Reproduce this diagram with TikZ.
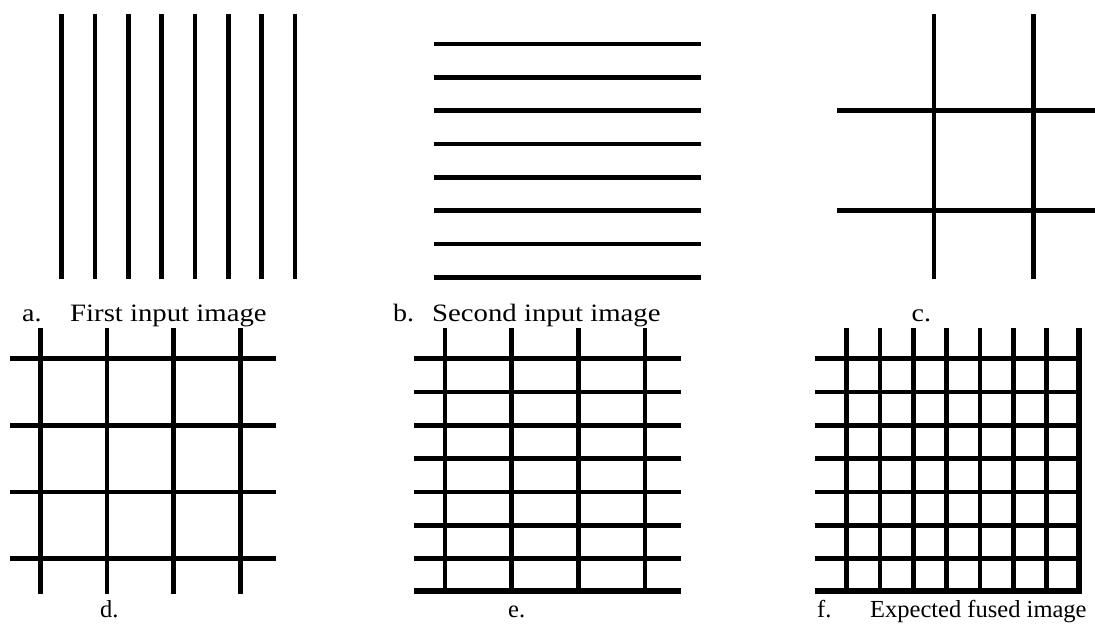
\documentclass[tikz,border=0pt]{standalone}
\usepackage{fontspec}
\setmainfont{Liberation Serif}
\begin{document}
\begin{tikzpicture}[x=1pt,y=-1pt,
  bar/.style={line width=4.8pt,black},
  thickbar/.style={line width=6pt,black},
  lbltop/.style={anchor=base west,inner sep=0pt,font=\fontsize{25}{30}\selectfont},
  lblbot/.style={anchor=base west,inner sep=0pt,font=\fontsize{24.5}{30}\selectfont}]
\useasboundingbox[fill=white] (0,0) rectangle (1095,624);
% panel a
\foreach \i in {0,...,7} \draw[bar] (61.7+33.33*\i,14) -- (61.7+33.33*\i,279);
% panel b
\foreach \i in {0,...,7} \draw[bar] (434,44+33.33*\i) -- (701,44+33.33*\i);
% panel c
\foreach \x in {934,1033.3} \draw[bar] (\x,14) -- (\x,279);
\foreach \y in {110.7,210.7} \draw[bar] (837,\y) -- (1095,\y);
% panel d
\foreach \i in {0,...,3} \draw[bar] (40.3+66.6*\i,328) -- (40.3+66.6*\i,594);
\foreach \i in {0,...,3} \draw[bar] (10,358.7+66.6*\i) -- (276,358.7+66.6*\i);
% panel e
\foreach \i in {0,...,3} \draw[bar] (445+66.67*\i,328) -- (445+66.67*\i,591);
\foreach \i in {0,...,6} \draw[bar] (414,358.7+33.33*\i) -- (681,358.7+33.33*\i);
\draw[thickbar] (414,591) -- (681,591);
% panel f
\foreach \i in {0,...,6} \draw[bar] (846.7+33.33*\i,328) -- (846.7+33.33*\i,591);
\draw[thickbar] (1078.5,328) -- (1078.5,594);
\foreach \i in {0,...,6} \draw[bar] (815,358.7+33.33*\i) -- (1081,358.7+33.33*\i);
\draw[thickbar] (815,591) -- (1081.5,591);
% labels
\node[lbltop] (la) at (22,321.5) {\scalebox{1.12}[1]{a.}};
\node[lbltop] (ta) at (70,321.5) {\scalebox{1.15}[1]{First input image}};
\node[lbltop] (lb) at (393,321.5) {\scalebox{1.12}[1]{b.}};
\node[lbltop] (tb) at (432,321.5) {\scalebox{1.15}[1]{Second input image}};
\node[lbltop] (lc) at (911.5,321.5) {\scalebox{1.12}[1]{c.}};
\node[lblbot] (ld) at (100,617) {d.};
\node[lblbot] (le) at (508,617) {e.};
\node[lblbot] (lf) at (817,617) {f.};
\node[lblbot] (tf) at (870,617) {Expected fused image};
\end{tikzpicture}
\end{document}
